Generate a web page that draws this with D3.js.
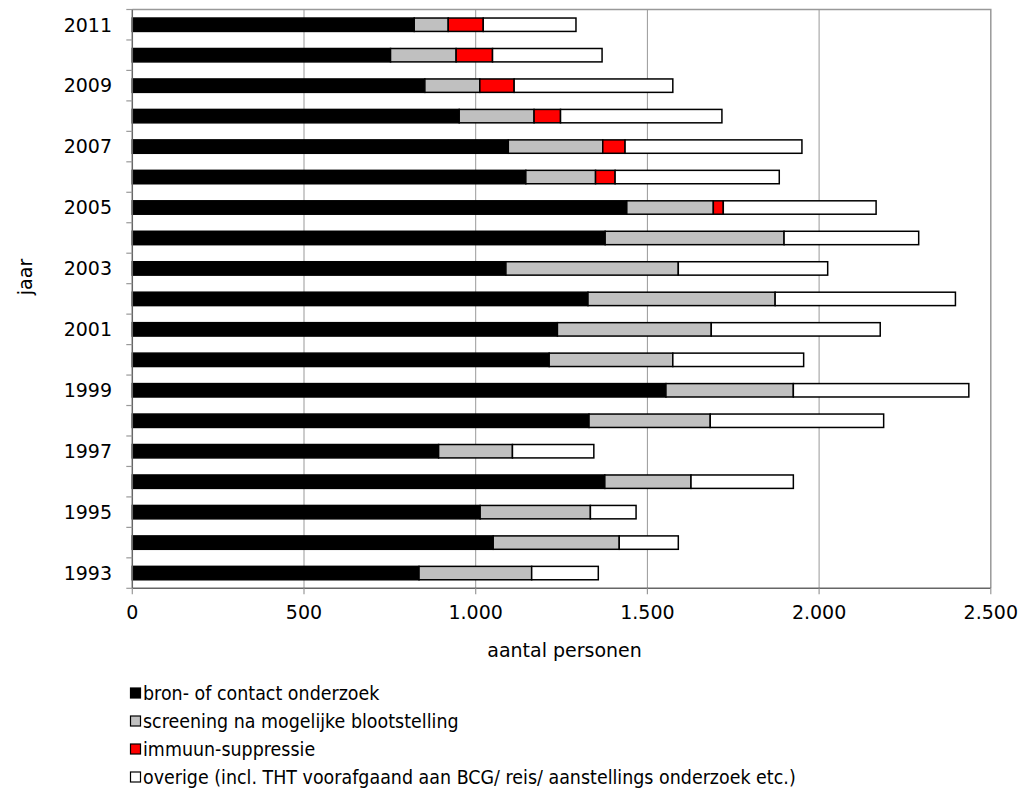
<!DOCTYPE html>
<html>
<head>
<meta charset="utf-8">
<script src="https://cdn.jsdelivr.net/npm/d3@7"></script>
<style>
  html, body { margin: 0; padding: 0; background: #fff; }
  svg text { font-family: "DejaVu Sans", Verdana, sans-serif; fill: #000; }
</style>
</head>
<body>
<svg id="chart" width="1023" height="803"></svg>
<script>
const years = [1993,1994,1995,1996,1997,1998,1999,2000,2001,2002,2003,2004,2005,2006,2007,2008,2009,2010,2011];
const bron      = [835,1051,1013,1376,892,1330,1554,1214,1238,1327,1088,1377,1440,1146,1095,952,852,752,821];
const screening = [328,367,321,251,215,353,371,360,448,545,502,521,252,203,275,218,160,191,99];
const immuun    = [0,0,0,0,0,0,0,0,0,0,0,0,29,57,65,77,100,106,102];
const overige   = [194,172,133,298,237,505,511,381,492,525,435,392,445,478,515,470,462,319,270];
const seriesNames = ["bron- of contact onderzoek","screening na mogelijke blootstelling","immuun-suppressie","overige (incl. THT voorafgaand aan BCG/ reis/ aanstellings onderzoek etc.)"];
const seriesKeys = ["bron","screening","immuun","overige"];
const seriesColors = ["#000000","#c0c0c0","#ff0000","#ffffff"];
const xTicks = [0,500,1000,1500,2000,2500];
const yLabelYears = [1993,1995,1997,1999,2001,2003,2005,2007,2009,2011];
const xTitle = "aantal personen";
const yTitle = "jaar";

const table = years.map((y,i)=>({year:y, bron:bron[i], screening:screening[i], immuun:immuun[i], overige:overige[i]}));

const svg = d3.select("#chart");
const L = 132.3, R = 990.8, T = 9.5, B = 588.3;

const x = d3.scaleLinear().domain([0,2500]).range([L,R]);
const y = d3.scaleBand().domain(years.slice().reverse()).range([T,B]).paddingInner(0.56).paddingOuter(0.28);
const step = y.step();
const fmt = v => d3.format(",")(v).replace(/,/g,".");

// gridlines
svg.append("g").selectAll("line").data(xTicks.filter(t=>t>0 && t<2500)).join("line")
  .attr("x1",d=>x(d)).attr("x2",d=>x(d)).attr("y1",T).attr("y2",B)
  .attr("stroke","#999").attr("stroke-width",1);

// plot border top/right
svg.append("path").attr("d",`M${L},${T}H${R}V${B}`).attr("fill","none").attr("stroke","#999").attr("stroke-width",1.5);

// stacked bars
const stack = d3.stack().keys(seriesKeys)(table);
svg.append("g").selectAll("g").data(stack).join("g")
  .attr("fill",(d,i)=>seriesColors[i])
  .selectAll("rect").data(d=>d.filter(e=>e[1]-e[0]>0)).join("rect")
  .attr("x",d=>x(d[0])).attr("width",d=>x(d[1])-x(d[0]))
  .attr("y",d=>y(d.data.year)).attr("height",y.bandwidth())
  .attr("stroke","#000").attr("stroke-width",1.5);

// y axis line & ticks at band boundaries
svg.append("line").attr("x1",L).attr("x2",L).attr("y1",T).attr("y2",B).attr("stroke","#666").attr("stroke-width",1.5);
const boundaries = d3.range(years.length+1).map(i=>T+i*step);
svg.append("g").selectAll("line").data(boundaries).join("line")
  .attr("x1",L-6).attr("x2",L).attr("y1",d=>d).attr("y2",d=>d).attr("stroke","#999").attr("stroke-width",1.2);
svg.append("g").selectAll("text").data(yLabelYears).join("text")
  .attr("x",112).attr("y",d=>y(d)+y.bandwidth()/2).attr("dy","0.36em")
  .attr("text-anchor","end").attr("font-size",19).text(d=>d);

// x axis
svg.append("line").attr("x1",L).attr("x2",R).attr("y1",B).attr("y2",B).attr("stroke","#666").attr("stroke-width",1.5);
svg.append("g").selectAll("line").data(xTicks).join("line")
  .attr("x1",d=>x(d)).attr("x2",d=>x(d)).attr("y1",B).attr("y2",B+6).attr("stroke","#999").attr("stroke-width",1.2);
svg.append("g").selectAll("text").data(xTicks).join("text")
  .attr("x",d=>x(d)).attr("y",612).attr("dy","0.36em").attr("text-anchor","middle").attr("font-size",19).text(fmt);

svg.append("text").attr("x",(L+R)/2+3).attr("y",650).attr("dy","0.36em").attr("text-anchor","middle").attr("font-size",19).text(xTitle);
svg.append("text").attr("transform","translate(25,277) rotate(-90)").attr("dy","0.36em").attr("text-anchor","middle").attr("font-size",19).text(yTitle);

// legend
const lg = svg.append("g").selectAll("g").data(seriesNames).join("g")
  .attr("transform",(d,i)=>`translate(130,${693+i*28})`);
lg.append("rect").attr("x",0.5).attr("y",-5).attr("width",10).attr("height",10)
  .attr("fill",(d,i)=>seriesColors[i]).attr("stroke","#000").attr("stroke-width",1.2);
lg.append("text").attr("transform","translate(13,0) scale(0.92,1)").attr("dy","0.36em").attr("font-size",19).text(d=>d);
</script>
</body>
</html>
